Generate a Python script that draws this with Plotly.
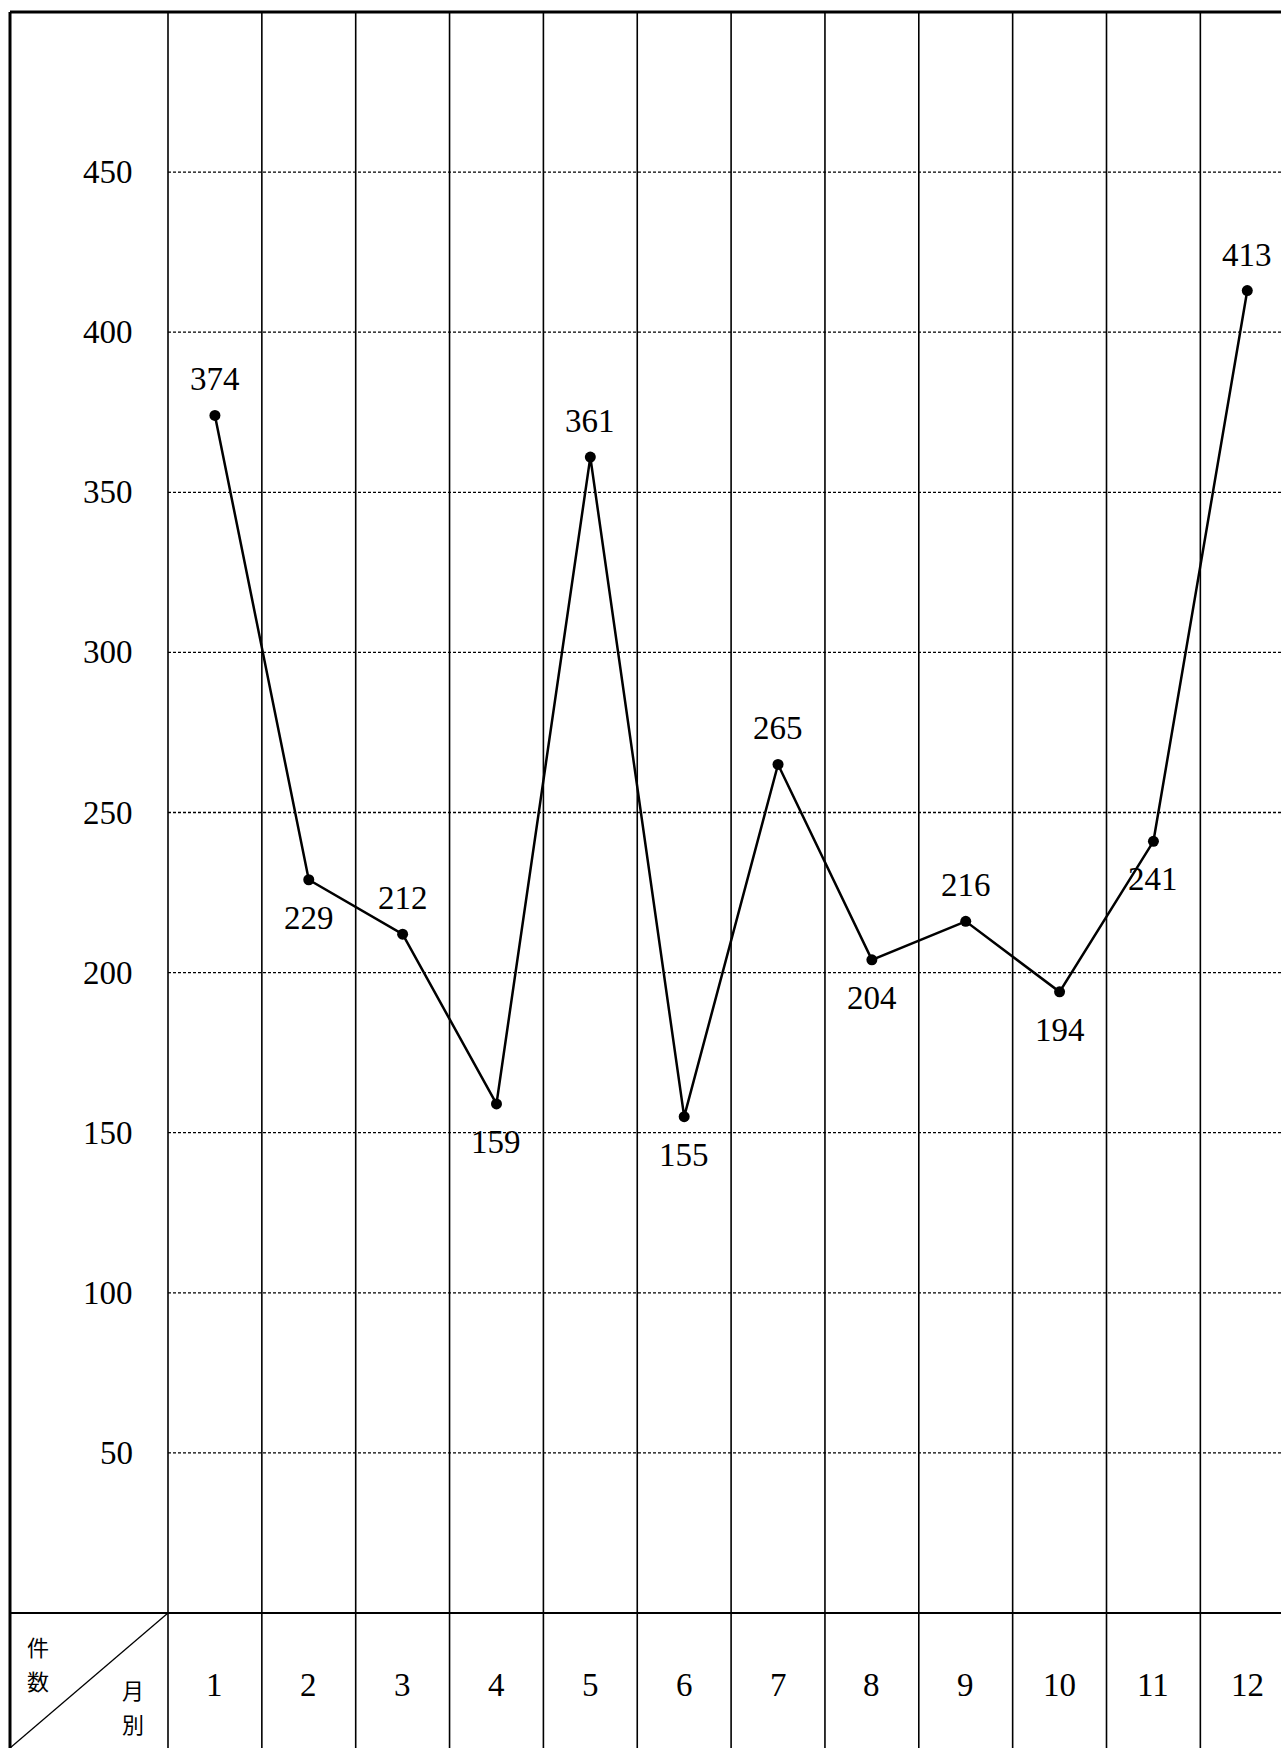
import plotly.graph_objects as go

# ---------------- data ----------------
months = list(range(1, 13))
month_labels = [str(m) for m in months]
counts = [374, 229, 212, 159, 361, 155, 265, 204, 216, 194, 241, 413]
label_side = ["above", "below", "above", "below", "above", "below",
              "above", "below", "above", "below", "below", "above"]
y_ticks = [50, 100, 150, 200, 250, 300, 350, 400, 450]
y_max = 500
corner_top = ["件", "数"]      # 件数 (counts)
corner_bottom = ["月", "別"]   # 月別 (by month)

# ---------------- geometry (pixel layout of the page) ----------------
W, H = 1281, 1748
COL_W = 93.85          # width of one month column in px
X_HALF_PX = 168.0      # px of the divider left of month 1 (x = 0.5)
ZERO_PX = 1613         # px of value 0 (top of the table row)
TOP_PX = 12            # px of value 500 (top border)
LEFT_PX = 10           # px of the left border
SCALE = (ZERO_PX - TOP_PX) / y_max


def px_x(p):
    return 0.5 + (p - X_HALF_PX) / COL_W


def px_y(p):
    return (ZERO_PX - p) / SCALE


x_min, x_max = px_x(0), px_x(W)
y_lo, y_hi = px_y(H), px_y(0)
x_border = px_x(LEFT_PX)

SERIF = "Liberation Serif, Times New Roman, serif"
CJK = "Noto Sans CJK JP, sans-serif"
NUM_SIZE = 33

fig = go.Figure()

fig.add_trace(go.Scatter(
    x=months, y=counts, mode="lines+markers",
    line=dict(color="black", width=2.5),
    marker=dict(size=11, color="black"),
    hoverinfo="x+y", showlegend=False, cliponaxis=False,
))

shapes = []
# dotted horizontal grid lines
for t in y_ticks:
    shapes.append(dict(type="line", xref="x", yref="y", x0=0.5, x1=x_max,
                       y0=t, y1=t, layer="below",
                       line=dict(color="black", width=1.3, dash="3px,2px")))
# vertical column dividers (full height, incl. table row)
dividers = [m - 0.5 for m in months] + [months[-1] + 0.5]
for d in dividers:
    shapes.append(dict(type="line", xref="x", yref="y", x0=d, x1=d,
                       y0=y_lo, y1=y_max, layer="below",
                       line=dict(color="black", width=1.6)))
# table top line (value 0)
shapes.append(dict(type="line", xref="x", yref="y", x0=x_border, x1=x_max,
                   y0=0, y1=0, layer="below", line=dict(color="black", width=2.2)))
# top border
shapes.append(dict(type="line", xref="x", yref="y", x0=x_border, x1=x_max,
                   y0=y_max, y1=y_max, layer="below",
                   line=dict(color="black", width=3)))
# left border
shapes.append(dict(type="line", xref="x", yref="y", x0=x_border, x1=x_border,
                   y0=y_lo, y1=y_max, layer="below",
                   line=dict(color="black", width=3)))
# diagonal in the corner cell
shapes.append(dict(type="line", xref="x", yref="y", x0=x_border, x1=0.5,
                   y0=y_lo, y1=0, layer="below",
                   line=dict(color="black", width=1.3)))

annotations = []
# y tick labels (left column)
for t in y_ticks:
    annotations.append(dict(x=px_x(135), y=t, xref="x", yref="y", text=str(t),
                            showarrow=False, xanchor="right", yanchor="middle",
                            font=dict(family=SERIF, size=NUM_SIZE, color="black")))
# month labels in the table row
for m, lab in zip(months, month_labels):
    annotations.append(dict(x=m, y=px_y(1685), xref="x", yref="y", text=lab,
                            showarrow=False, xanchor="center", yanchor="middle",
                            font=dict(family=SERIF, size=NUM_SIZE, color="black")))
# value labels
for m, c, side in zip(months, counts, label_side):
    annotations.append(dict(x=m, y=c, xref="x", yref="y", text=str(c),
                            showarrow=False, xanchor="center", yanchor="middle",
                            yshift=36 if side == "above" else -38,
                            font=dict(family=SERIF, size=NUM_SIZE, color="black")))
# corner cell text (one character per annotation, stacked vertically)
for ch, py in zip(corner_top, [1646, 1680]):
    annotations.append(dict(x=px_x(38), y=px_y(py), xref="x", yref="y", text=ch,
                            showarrow=False, xanchor="center", yanchor="middle",
                            font=dict(family=CJK, size=22, color="black")))
for ch, py in zip(corner_bottom, [1689, 1723]):
    annotations.append(dict(x=px_x(133), y=px_y(py), xref="x", yref="y", text=ch,
                            showarrow=False, xanchor="center", yanchor="middle",
                            font=dict(family=CJK, size=22, color="black")))

fig.update_layout(
    width=W, height=H,
    margin=dict(l=0, r=0, t=0, b=0, pad=0),
    paper_bgcolor="white", plot_bgcolor="white",
    xaxis=dict(range=[x_min, x_max], visible=False, fixedrange=True),
    yaxis=dict(range=[y_lo, y_hi], visible=False, fixedrange=True),
    shapes=shapes, annotations=annotations, showlegend=False,
)

fig.write_html("out.html", config={"displayModeBar": False},
               post_script="document.body.style.margin='0';document.body.style.overflow='hidden';")
